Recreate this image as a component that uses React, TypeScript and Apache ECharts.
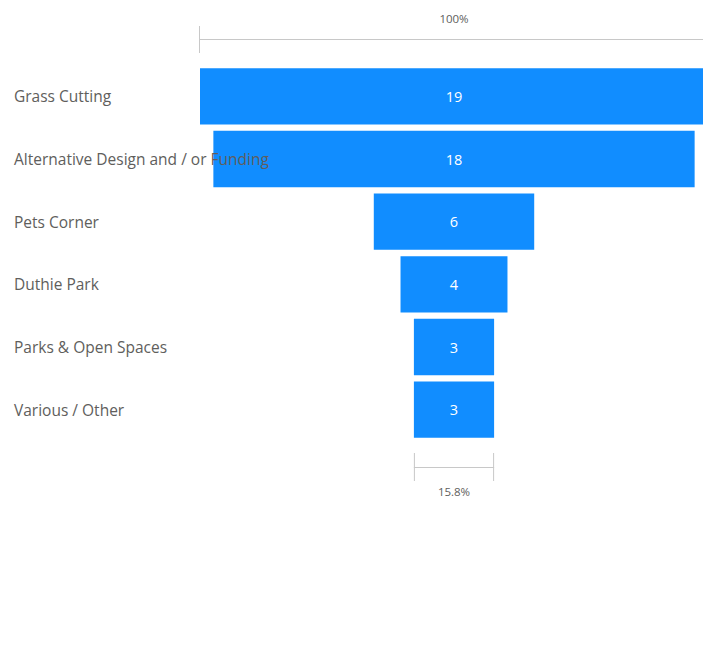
import React, { useEffect, useRef } from "react";
import * as echarts from "echarts";

const categories = [
  "Grass Cutting",
  "Alternative Design and / or Funding",
  "Pets Corner",
  "Duthie Park",
  "Parks & Open Spaces",
  "Various / Other",
];
const values = [19, 18, 6, 4, 3, 3];

const FONT = "'Open Sans', 'Noto Sans', sans-serif";

export default function App() {
  const ref = useRef<HTMLDivElement>(null);
  useEffect(() => {
    if (!ref.current) return;
    const chart = echarts.init(ref.current, null, { renderer: "svg" });
    const maxV = Math.max(...values);
    const bases = values.map((v) => (maxV - v) / 2);
    chart.setOption({
      animation: false,
      grid: { left: 200, right: 0, top: 65, bottom: 204 },
      xAxis: { type: "value", min: 0, max: maxV, show: false },
      yAxis: {
        type: "category",
        data: categories,
        inverse: true,
        z: 10,
        axisLine: { show: false },
        axisTick: { show: false },
        axisLabel: {
          align: "left",
          margin: 186,
          color: "#605E5C",
          fontSize: 15.5,
          fontFamily: FONT,
        },
      },
      series: [
        {
          type: "bar",
          stack: "f",
          data: bases,
          silent: true,
          barCategoryGap: "10%",
          itemStyle: { color: "transparent" },
        },
        {
          type: "bar",
          stack: "f",
          data: values,
          barCategoryGap: "10%",
          itemStyle: { color: "#118DFF" },
          label: {
            show: true,
            position: "inside",
            color: "#ffffff",
            fontSize: 14.5,
            fontFamily: FONT,
          },
        },
      ],
    });
    const first = 0;
    const last = values.length - 1;
    const x0 = chart.convertToPixel({ xAxisIndex: 0 }, bases[first]) as number;
    const x1 = chart.convertToPixel({ xAxisIndex: 0 }, bases[first] + values[first]) as number;
    const l0 = chart.convertToPixel({ xAxisIndex: 0 }, bases[last]) as number;
    const l1 = chart.convertToPixel({ xAxisIndex: 0 }, bases[last] + values[last]) as number;
    const pct = ((values[last] / values[first]) * 100).toFixed(1) + "%";
    const lineStyle = { stroke: "#C8C8C8", lineWidth: 1 };
    const textStyle = { fill: "#605E5C", fontSize: 11.5, fontFamily: FONT, align: "center", verticalAlign: "middle" };
    chart.setOption({
      graphic: [
        { type: "line", shape: { x1: x0 - 0.5, y1: 39.5, x2: x1, y2: 39.5 }, style: lineStyle },
        { type: "line", shape: { x1: x0 - 0.5, y1: 26, x2: x0 - 0.5, y2: 53 }, style: lineStyle },
        { type: "line", shape: { x1: x1 - 0.5, y1: 26, x2: x1 - 0.5, y2: 53 }, style: lineStyle },
        { type: "text", x: (x0 + x1) / 2, y: 18, style: { ...textStyle, text: "100%" } },
        { type: "line", shape: { x1: l0, y1: 467.5, x2: l1, y2: 467.5 }, style: lineStyle },
        { type: "line", shape: { x1: l0 + 0.5, y1: 453, x2: l0 + 0.5, y2: 481 }, style: lineStyle },
        { type: "line", shape: { x1: l1 - 0.5, y1: 453, x2: l1 - 0.5, y2: 481 }, style: lineStyle },
        { type: "text", x: (l0 + l1) / 2, y: 491, style: { ...textStyle, text: pct } },
      ],
    });
    return () => chart.dispose();
  }, []);
  return (
    <div
      style={{ position: "fixed", left: 0, top: 0, width: 703, height: 645, overflow: "hidden", background: "#fff" }}
    >
      <div ref={ref} style={{ width: 708, height: 645 }} />
    </div>
  );
}
